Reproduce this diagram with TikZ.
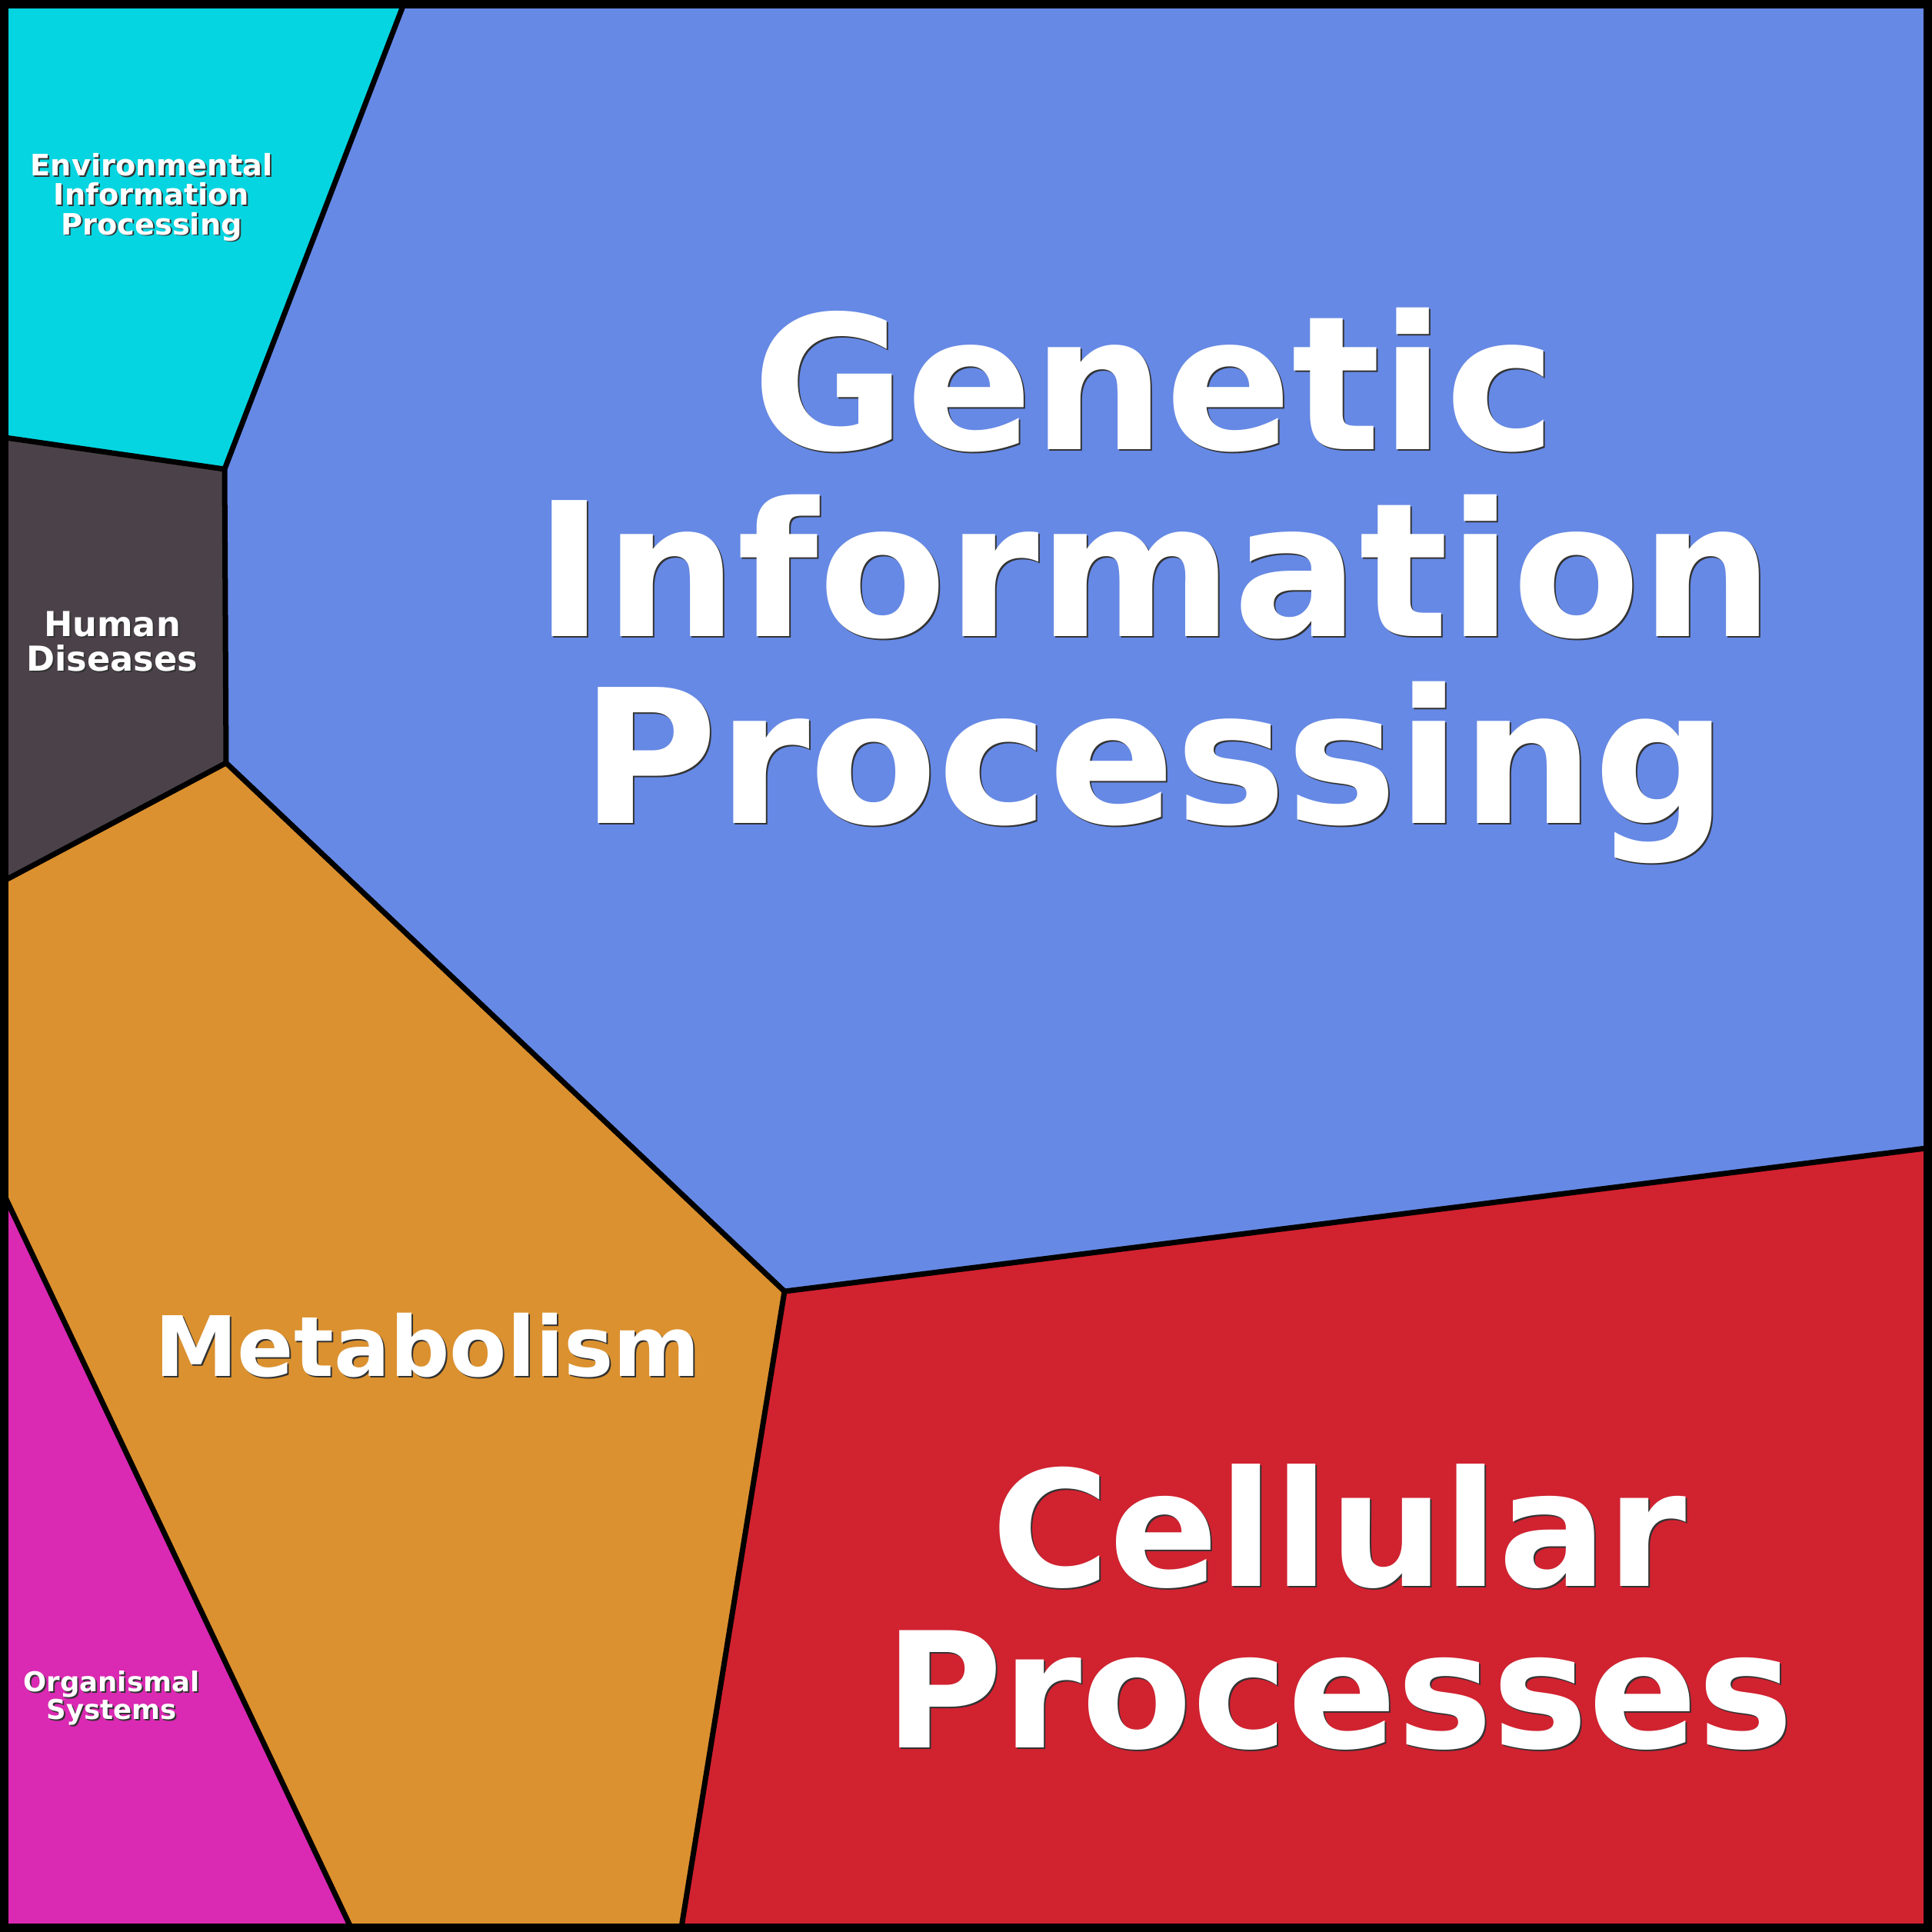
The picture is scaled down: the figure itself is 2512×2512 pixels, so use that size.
\documentclass[tikz,border=0pt]{standalone}
\usepackage{fontspec}
\setmainfont{DejaVu Sans}
\usepackage{tikz}
\definecolor{envcol}{HTML}{05D5E0}
\definecolor{gencol}{HTML}{6689E5}
\definecolor{humcol}{HTML}{4B4249}
\definecolor{metcol}{HTML}{DB912F}
\definecolor{celcol}{HTML}{D12230}
\definecolor{orgcol}{HTML}{DA29B3}
\tikzset{
  cell/.style={draw=black, line width=0.07cm, line join=round},
  label/.style={text=white, font=\bfseries, align=center, inner sep=0pt, anchor=base},
  shadow/.style={label, text=black!80}
}
\newcommand{\celllabel}[4]{%
  \node[shadow, font=\bfseries\fontsize{#3}{#3}\selectfont] at ([shift={(2,2)}]#2) {#4};
  \node[label, font=\bfseries\fontsize{#3}{#3}\selectfont] (#1) at (#2) {#4};
}

\begin{document}
\begin{tikzpicture}[x=0.01cm, y=-0.01cm]
            \useasboundingbox (0,0) rectangle (2512,2512);
            \clip (0,0) rectangle (2512,2512);
            % cell corners
            \coordinate (a) at (527,0);
            \coordinate (b) at (292,610);
            \coordinate (c) at (0,568);
            \coordinate (d) at (294,992);
            \coordinate (e) at (0,1148);
            \coordinate (f) at (1020,1679);
            \coordinate (g) at (2512,1492);
            \coordinate (h) at (885,2512);
            \coordinate (i) at (0,1542);
            \coordinate (j) at (459,2512);
            % cells
            \fill[envcol] (0,0) -- (a) -- (b) -- (c) -- cycle;
            \fill[gencol] (a) -- (2512,0) -- (g) -- (f) -- (d) -- (b) -- cycle;
            \fill[humcol] (c) -- (b) -- (d) -- (e) -- cycle;
            \fill[metcol] (e) -- (d) -- (f) -- (h) -- (j) -- (i) -- cycle;
            \fill[celcol] (f) -- (g) -- (2512,2512) -- (h) -- cycle;
            \fill[orgcol] (i) -- (j) -- (0,2512) -- cycle;
            % borders
            \draw[cell] (a) -- (b) -- (d) -- (f) -- (g);
            \draw[cell] (c) -- (b);
            \draw[cell] (e) -- (d);
            \draw[cell] (f) -- (h);
            \draw[cell] (i) -- (j);
            \draw[line width=0.11cm] (5.5,5.5) rectangle (2506.5,2506.5);
            % labels (anchored at the last line)
            \celllabel{genetic}{1501,1070}{69pt}{Genetic\\Information\\Processing}
            \celllabel{cellular}{1741,2272}{59.5pt}{Cellular\\Processes}
            \celllabel{metabolism}{556,1789}{30.8pt}{Metabolism}
            \celllabel{environmental}{197,305}{10.9pt}{Environmental\\Information\\Processing}
            \celllabel{human}{146,872}{12.7pt}{Human\\Diseases}
            \celllabel{organismal}{145,2235}{10.1pt}{Organismal\\Systems}
\end{tikzpicture}
\end{document}
